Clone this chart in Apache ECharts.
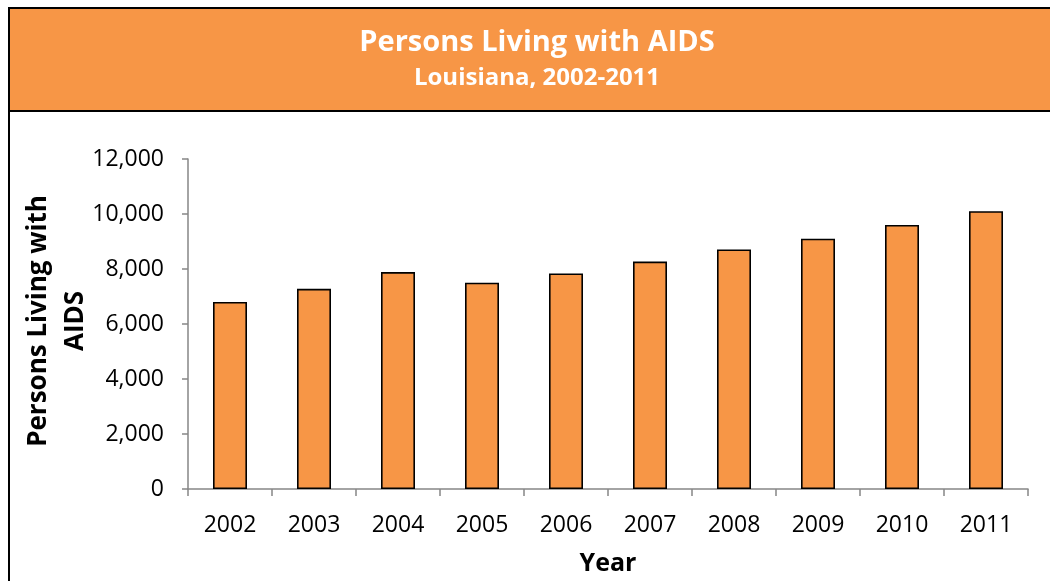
<!DOCTYPE html>
<html>
<head>
<meta charset="utf-8">
<script src="https://cdn.jsdelivr.net/npm/echarts@6/dist/echarts.min.js"></script>
<style>
html,body{margin:0;padding:0;background:#fff;}
#chart{width:1050px;height:581px;}
</style>
</head>
<body>
<div id="chart"></div>
<script>
var years = ['2002','2003','2004','2005','2006','2007','2008','2009','2010','2011'];
var persons = [6800, 7280, 7890, 7500, 7840, 8270, 8710, 9100, 9600, 10100];
var yTicks = {min: 0, max: 12000, interval: 2000};
var titleText = 'Persons Living with AIDS';
var subtitleText = 'Louisiana, 2002-2011';
var yName = 'Persons Living with\nAIDS';
var xName = 'Year';

var FONT = '"Open Sans", "Noto Sans", sans-serif';
var ORANGE = '#F79646';
var AXIS = '#868686';

var chart = echarts.init(document.getElementById('chart'), null, {renderer: 'canvas'});
chart.setOption({
  animation: false,
  backgroundColor: '#ffffff',
  graphic: [
    {type: 'rect', shape: {x: 9, y: 8, width: 1050, height: 103},
     style: {fill: ORANGE, stroke: '#000', lineWidth: 2}, z: 0},
    {type: 'line', shape: {x1: 9, y1: 111, x2: 9, y2: 590},
     style: {stroke: '#000', lineWidth: 2}, z: 0},
    {type: 'text', x: 537, y: 43, z: 5,
     style: {text: titleText, fill: '#fff', font: 'bold 29px ' + FONT, align: 'center', verticalAlign: 'middle'}},
    {type: 'text', x: 537, y: 78, z: 5,
     style: {text: subtitleText, fill: '#fff', font: 'bold 24px ' + FONT, align: 'center', verticalAlign: 'middle'}},
    {type: 'text', x: 57, y: 321, rotation: Math.PI / 2, z: 5,
     style: {text: yName, fill: '#000', font: 'bold 26px ' + FONT, lineHeight: 37, align: 'center', verticalAlign: 'middle'}}
  ],
  grid: {left: 188, right: 22, top: 159, bottom: 91, containLabel: false},
  xAxis: {
    type: 'category',
    data: years,
    name: xName,
    nameLocation: 'middle',
    nameGap: 62,
    nameTextStyle: {fontFamily: FONT, fontWeight: 'bold', fontSize: 25, color: '#000'},
    axisLine: {show: true, lineStyle: {color: AXIS, width: 1.5}},
    axisTick: {show: true, alignWithLabel: false, length: 7, lineStyle: {color: AXIS, width: 1.5}},
    axisLabel: {fontFamily: FONT, fontSize: 23, color: '#000', margin: 25},
    splitLine: {show: false}
  },
  yAxis: {
    type: 'value',
    min: yTicks.min, max: yTicks.max, interval: yTicks.interval,
    axisLine: {show: true, lineStyle: {color: AXIS, width: 1.5}},
    axisTick: {show: true, length: 6, lineStyle: {color: AXIS, width: 1.5}},
    axisLabel: {fontFamily: FONT, fontSize: 23, color: '#000', margin: 24,
      formatter: function (v) { return v.toLocaleString('en-US'); }},
    splitLine: {show: false}
  },
  series: [{
    type: 'bar',
    data: persons,
    barWidth: 34,
    itemStyle: {color: ORANGE, borderColor: '#000', borderWidth: 1.6}
  }]
});
</script>
</body>
</html>
